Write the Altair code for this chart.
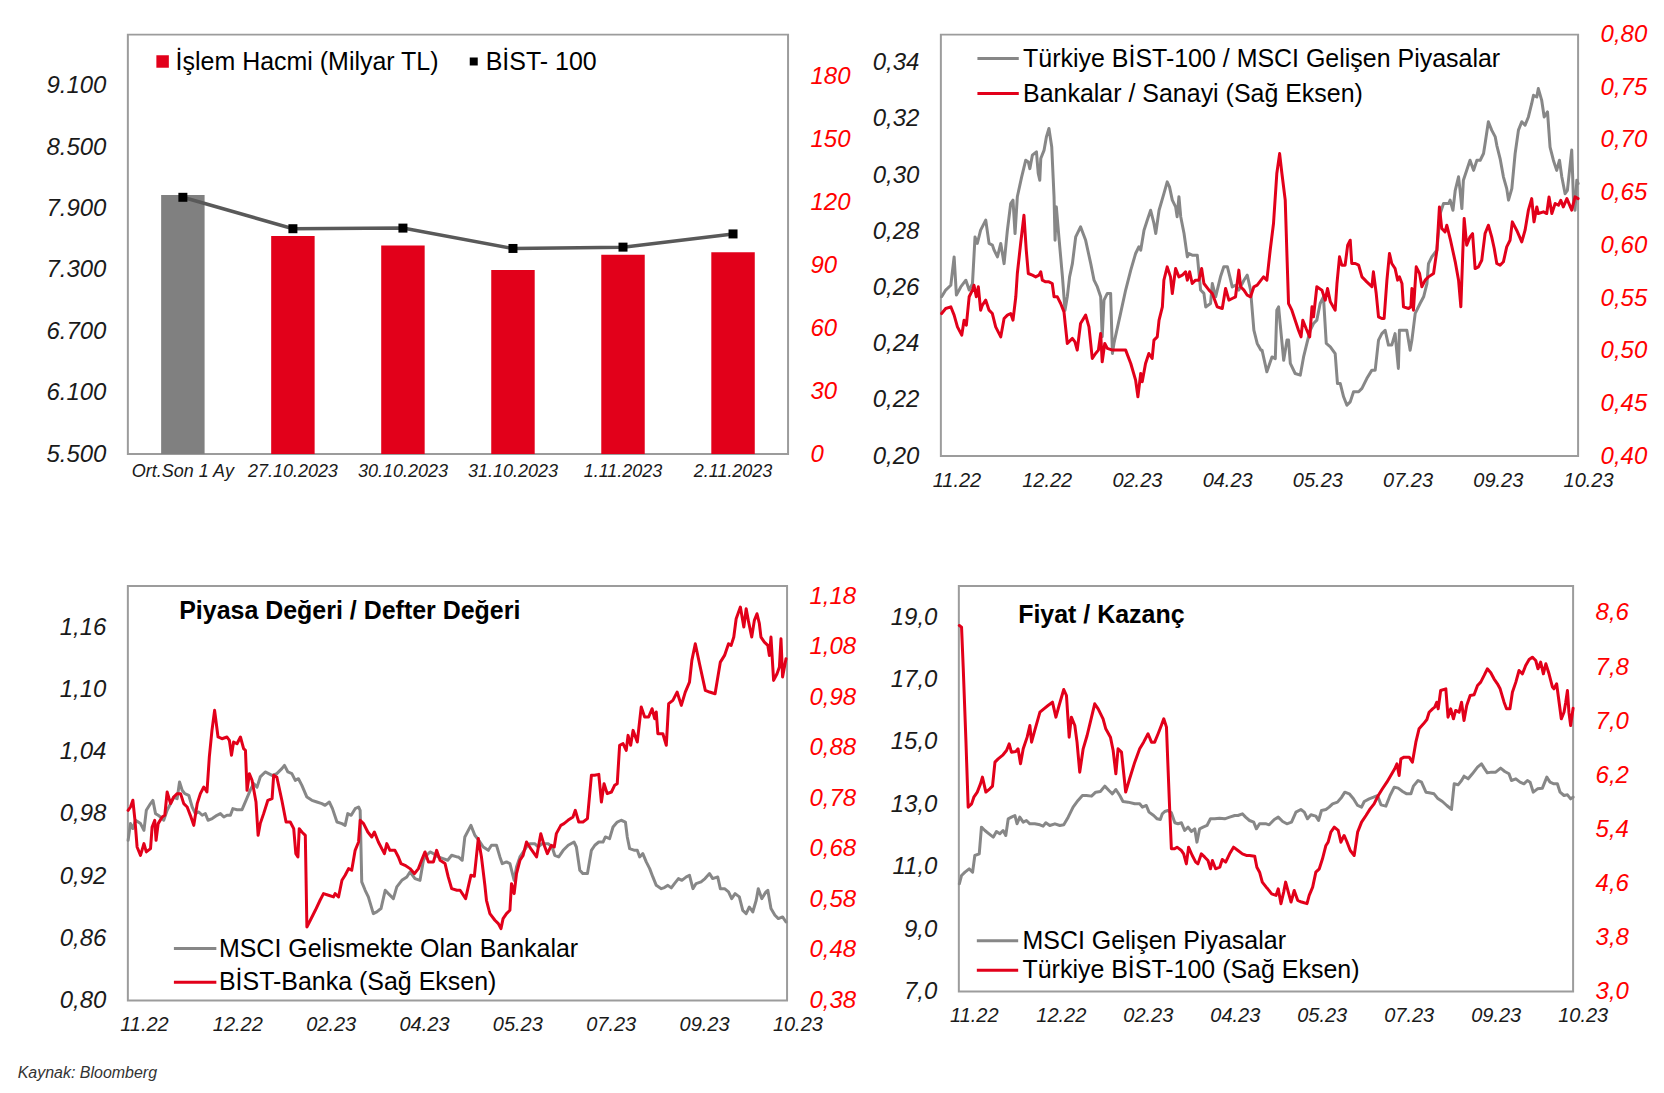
import altair as alt
import pandas as pd

FONT = "Liberation Sans"
TXT = "#1a1a1a"
RED = "#E2001A"
RED_TXT = "#FF0000"
GRAY = "#878787"
GRAY_BAR = "#808080"
FRAME = "#9C9C9C"

# ---------------- Panel 1 : İşlem hacmi & BİST-100 ----------------
p1_categories = ["Ort.Son 1 Ay", "27.10.2023", "30.10.2023", "31.10.2023", "1.11.2023", "2.11.2023"]
p1_volume = [123.5, 104.0, 99.5, 87.8, 95.1, 96.2]
p1_bist100 = [8010, 7703, 7709, 7510, 7523, 7652]
p1_left_ticks = [5500, 6100, 6700, 7300, 7900, 8500, 9100]
p1_right_ticks = [0, 30, 60, 90, 120, 150, 180]
p1_legend = ["İşlem Hacmi (Milyar TL)", "BİST- 100"]

# ---------------- shared month labels ----------------
month_labels = ["11.22", "12.22", "02.23", "04.23", "05.23", "07.23", "09.23", "10.23"]
month_label_days = [6.3, 41.7, 77.1, 112.5, 147.9, 183.3, 218.7, 254.1]

# ---------------- Panel 2 ----------------
p2_names = ["Türkiye BİST-100 / MSCI Gelişen Piyasalar", "Bankalar / Sanayi (Sağ Eksen)"]
p2_left_ticks = [0.20, 0.22, 0.24, 0.26, 0.28, 0.30, 0.32, 0.34]
p2_right_ticks = [0.40, 0.45, 0.50, 0.55, 0.60, 0.65, 0.70, 0.75, 0.80]
p2_gray = [
    (0.3, .2567), (1.9, .2591), (3.9, .2608), (5.2, .2709), (6.1, .2573), (7.8, .2602), (9.8, .2626), (11.1, .2591),
    (12.4, .2614), (13.4, .2780), (14.3, .2757), (15.6, .2804), (17.6, .2840), (18.9, .2757), (20.2, .2751), (20.9, .2733),
    (22.2, .2709), (23.5, .2757), (24.8, .2685), (26.1, .2804), (27.4, .2899), (28.3, .2911), (29.1, .2792), (30.0, .2923),
    (31.7, .2994), (33.3, .3053), (34.3, .3047), (34.9, .3023), (35.9, .3071), (37.5, .3083), (38.2, .3006), (38.8, .2982),
    (39.2, .3059), (40.5, .3089), (41.4, .3136), (42.4, .3166), (43.5, .3100), (44.4, .2923), (44.8, .2768), (45.3, .2887),
    (46.3, .2780), (47.7, .2638), (48.7, .2519), (49.6, .2567), (50.5, .2638), (51.6, .2685), (52.9, .2780), (54.8, .2816),
    (56.8, .2768), (58.8, .2685), (60.1, .2626), (61.4, .2602), (62.7, .2567), (63.3, .2425), (64.0, .2555), (65.3, .2579),
    (66.6, .2579), (67.3, .2365), (67.9, .2401), (70.5, .2508), (72.5, .2591), (74.5, .2662), (76.4, .2721), (77.7, .2745),
    (78.4, .2733), (79.7, .2804), (81.0, .2840), (82.3, .2875), (83.6, .2828), (84.3, .2792), (85.6, .2875), (87.5, .2934),
    (88.8, .2976), (89.7, .2958), (90.8, .2911), (92.1, .2887), (92.7, .2852), (93.4, .2923), (94.1, .2852), (95.4, .2792),
    (96.7, .2709), (97.3, .2721), (98.6, .2715), (100.6, .2715), (101.9, .2591), (103.2, .2579), (103.9, .2531), (105.8, .2543),
    (106.5, .2614), (107.8, .2567), (109.7, .2638), (111.0, .2674), (112.4, .2674), (113.7, .2626), (114.3, .2602), (115.6, .2608),
    (116.9, .2591), (118.9, .2626), (120.2, .2644), (121.5, .2591), (122.8, .2448), (124.1, .2401), (125.6, .2377),
    (126.0, .2377), (127.9, .2300), (129.9, .2353), (131.2, .2347), (131.8, .2519), (132.5, .2531), (133.1, .2472), (134.5, .2341),
    (135.8, .2413), (136.4, .2413), (137.1, .2330), (139.0, .2294), (141.0, .2288), (142.3, .2353), (143.6, .2401), (144.9, .2448),
    (146.2, .2472), (147.5, .2484), (148.8, .2543), (150.1, .2567), (151.2, .2401), (152.8, .2389), (154.7, .2365), (155.6, .2258),
    (156.7, .2258), (158.0, .2211), (159.3, .2181), (160.6, .2193), (161.9, .2229), (163.9, .2229), (165.2, .2241), (167.1, .2276),
    (169.1, .2306), (170.4, .2306), (171.7, .2413), (173.0, .2436), (174.3, .2448), (175.6, .2395), (176.9, .2395), (178.2, .2436),
    (179.5, .2312), (179.9, .2448), (182.8, .2448), (184.1, .2377), (184.8, .2413), (186.1, .2508), (188.0, .2543), (189.4, .2567),
    (190.7, .2614), (191.3, .2685), (192.6, .2709), (194.6, .2733), (195.9, .2863), (197.2, .2899), (199.2, .2899), (199.8, .2911),
    (200.9, .2875), (201.8, .2946), (203.1, .2994), (203.7, .2946), (204.4, .2881), (205.0, .2982), (206.3, .3017), (207.6, .3053),
    (209.0, .3017), (210.3, .3053), (211.6, .3053), (212.9, .3077), (213.5, .3112), (214.8, .3190), (216.1, .3160), (217.5, .3136),
    (218.1, .3106), (219.4, .3059), (220.7, .2994), (222.0, .2952), (222.7, .2911), (224.0, .2952), (225.3, .3077), (226.6, .3160),
    (227.9, .3190), (229.2, .3178), (230.5, .3207), (231.8, .3255), (232.5, .3284), (233.8, .3278), (234.4, .3308), (235.7, .3267),
    (236.7, .3207), (238.0, .3225), (239.0, .3100), (240.3, .3053), (241.6, .3017), (242.7, .3053), (243.6, .2994), (244.9, .2934),
    (245.8, .2946), (247.5, .3089), (248.2, .2911), (248.8, .2875), (249.5, .2982), (250.0, .2970),
]
p2_red = [
    (0.3, .5353), (1.9, .5401), (3.9, .5417), (5.2, .5338), (6.5, .5227), (8.2, .5148), (9.1, .5290), (10.0, .5243),
    (11.1, .5512), (12.4, .5575), (13.0, .5622), (13.9, .5512), (14.7, .5607), (15.6, .5385), (16.3, .5433), (17.6, .5480),
    (18.9, .5385), (20.2, .5353), (21.5, .5227), (23.5, .5132), (24.8, .5306), (26.1, .5338), (27.4, .5353), (28.3, .5290),
    (29.4, .5512), (30.0, .5733), (31.3, .6018), (32.6, .6286), (33.5, .5954), (34.3, .5733), (35.9, .5717), (37.2, .5701),
    (38.5, .5717), (39.2, .5749), (39.8, .5670), (41.1, .5654), (42.4, .5654), (43.7, .5638), (44.4, .5512), (45.7, .5512),
    (47.0, .5448), (48.3, .5369), (49.6, .5069), (50.9, .5101), (51.6, .5117), (52.6, .5085), (53.5, .5006), (54.8, .5259),
    (56.8, .5338), (58.1, .5227), (59.4, .4927), (60.7, .4974), (61.8, .5006), (62.7, .5164), (63.3, .4895), (64.3, .5069),
    (65.3, .5022), (67.3, .5006), (69.9, .5006), (72.5, .5006), (74.5, .4879), (76.4, .4721), (77.3, .4563), (78.4, .4784),
    (79.0, .4705), (80.3, .4879), (81.6, .4974), (82.9, .4927), (83.6, .5101), (84.9, .5132), (85.6, .5290), (86.9, .5417),
    (87.5, .5670), (88.8, .5796), (90.1, .5701), (90.8, .5543), (92.1, .5780), (93.4, .5701), (94.7, .5717), (96.0, .5749),
    (96.7, .5670), (97.6, .5749), (98.6, .5638), (99.9, .5670), (101.2, .5670), (102.3, .5780), (103.2, .5638), (105.2, .5575),
    (106.5, .5543), (108.4, .5417), (110.4, .5401), (111.7, .5591), (113.0, .5480), (114.3, .5496), (115.6, .5512), (116.9, .5765),
    (117.6, .5607), (118.9, .5575), (120.2, .5527), (121.5, .5512), (122.8, .5607), (124.1, .5622), (125.6, .5670),
    (126.6, .5701), (127.9, .5670), (129.2, .5954), (130.5, .6207), (131.8, .6682), (132.9, .6871), (133.8, .6682), (135.1, .6429),
    (135.8, .5891), (136.4, .5448), (137.7, .5385), (139.0, .5290), (140.3, .5195), (141.3, .5132), (142.0, .5290), (143.3, .5211),
    (144.7, .5132), (145.6, .5417), (146.2, .5322), (147.5, .5607), (149.5, .5575), (150.8, .5480), (151.7, .5591), (152.8, .5464),
    (154.7, .5385), (155.4, .5638), (156.4, .5891), (157.3, .5812), (158.6, .5812), (159.6, .6002), (160.6, .6049), (161.2, .5828),
    (162.6, .5828), (163.9, .5812), (165.2, .5701), (167.1, .5654), (169.1, .5607), (169.7, .5749), (170.8, .5543), (171.7, .5322),
    (173.0, .5306), (173.9, .5306), (175.0, .5670), (176.0, .5923), (176.9, .5828), (178.2, .5780), (179.2, .5670), (179.9, .5701),
    (180.9, .5638), (181.5, .5417), (183.5, .5401), (184.4, .5417), (184.8, .5591), (185.4, .5385), (186.5, .5796), (187.8, .5733),
    (188.7, .5607), (190.0, .5670), (191.3, .5701), (193.3, .5733), (194.6, .5954), (195.6, .6365), (196.5, .6160), (197.8, .6128),
    (198.5, .6191), (199.8, .6065), (201.8, .5844), (203.1, .5670), (204.0, .5417), (204.8, .5954), (205.3, .6255), (206.3, .6002),
    (207.6, .6081), (208.6, .6112), (209.6, .5780), (210.9, .5796), (212.2, .5859), (213.5, .6112), (214.8, .6191), (216.1, .6081),
    (217.1, .5970), (218.1, .5828), (219.4, .5812), (220.7, .5844), (222.0, .5986), (223.3, .6049), (224.2, .6223), (225.9, .6144),
    (227.9, .6033), (229.2, .6144), (230.5, .6334), (231.8, .6444), (232.7, .6223), (233.8, .6365), (234.4, .6302), (236.4, .6318),
    (237.7, .6302), (238.6, .6460), (239.7, .6302), (241.0, .6397), (242.3, .6381), (243.2, .6428), (244.2, .6365), (245.6, .6444),
    (247.5, .6334), (248.8, .6460), (250.0, .6444),
]

# ---------------- Panel 3 ----------------
p3_title = "Piyasa Değeri / Defter Değeri"
p3_names = ["MSCI Gelismekte Olan Bankalar", "BİST-Banka (Sağ Eksen)"]
p3_left_ticks = [0.80, 0.86, 0.92, 0.98, 1.04, 1.10, 1.16]
p3_right_ticks = [0.38, 0.48, 0.58, 0.68, 0.78, 0.88, 0.98, 1.08, 1.18]
p3_gray_days = [
    0.1, 1.0, 1.9, 2.9, 4.8, 6.1, 7.0, 8.6, 9.5, 10.5, 11.5, 12.4, 13.6, 14.9, 16.2, 17.4, 18.7, 19.6, 20.6, 21.6,
    23.1, 24.4, 25.6, 26.9, 28.2, 29.4, 30.4, 32.0, 33.8, 35.1, 36.4, 37.6, 38.9, 39.8, 41.4, 43.3, 44.8, 46.4, 47.7, 49.0,
    50.2, 52.1, 53.4, 54.7, 56.5, 58.4, 59.4, 60.7, 62.2, 63.5, 64.7, 66.0, 67.9, 69.8, 71.7, 73.6, 74.8, 76.4, 77.6, 79.3,
    81.2, 82.4, 83.4, 84.7, 86.2, 87.5, 88.1, 88.7, 90.0, 91.2, 93.1, 94.4, 96.0, 97.6, 98.8, 100.7, 102.0, 103.9, 105.8, 107.0,
    108.9, 110.8, 112.1, 113.3, 114.6, 115.9, 117.7, 119.6, 121.3, 122.8, 124.8,
]
p3_gray_vals = [
    0.9546, 0.9707, 0.9659, 0.9739, 0.9707, 0.9642, 0.9835, 0.9900, 0.9931, 0.9803, 0.9787, 0.9770, 0.9739, 0.9835, 0.9900,
    0.9963, 0.9948, 1.0109, 1.0028, 0.9996, 0.9980, 0.9867, 0.9803, 0.9819, 0.9787, 0.9803, 0.9739, 0.9755, 0.9787, 0.9803,
    0.9770, 0.9787, 0.9787, 0.9851, 0.9841, 0.9841, 0.9931, 1.0028, 1.0092, 1.0059, 1.0157, 1.0205, 1.0189, 1.0172, 1.0189,
    1.0237, 1.0269, 1.0205, 1.0189, 1.0124, 1.0140, 1.0076, 0.9963, 0.9931, 0.9915, 0.9900, 0.9883, 0.9915, 0.9851, 0.9722,
    0.9707, 0.9690, 0.9803, 0.9787, 0.9851, 0.9867, 0.9835, 0.9144, 0.9063, 0.8999, 0.8838, 0.8854, 0.8887, 0.9063, 0.9031,
    0.8983, 0.9096, 0.9159, 0.9192, 0.9240, 0.9176, 0.9159, 0.9353, 0.9401, 0.9433, 0.9417, 0.9385, 0.9368, 0.9353, 0.9401,
    0.9385,
]
p3_gray_late = [
    (125.3, .9385), (126.8, .9353), (127.8, .9578), (130.1, .9690), (131.6, .9594), (133.1, .9546), (134.8, .9481), (136.7, .9449),
    (137.9, .9498), (139.8, .9498), (141.1, .9385), (142.0, .9320), (143.6, .9337), (144.9, .9320), (146.5, .9159), (147.4, .9288),
    (148.7, .9385), (151.2, .9481), (152.4, .9513), (154.3, .9513), (155.6, .9481), (157.1, .9513), (159.4, .9513), (160.9, .9481),
    (161.9, .9401), (163.4, .9385), (165.1, .9449), (167.0, .9498), (169.2, .9529), (170.1, .9481), (171.4, .9256), (172.6, .9224),
    (174.3, .9224), (175.8, .9449), (177.1, .9498), (178.6, .9529), (180.2, .9529), (181.1, .9578), (182.7, .9561), (184.0, .9674),
    (185.6, .9722), (187.1, .9739), (188.7, .9722), (189.4, .9578), (190.3, .9465), (192.2, .9449), (193.2, .9449), (194.1, .9385),
    (195.3, .9417), (196.6, .9337), (197.9, .9272), (199.1, .9192), (200.4, .9111), (202.3, .9079), (203.5, .9089), (204.8, .9111),
    (206.1, .9086), (207.3, .9128), (208.8, .9176), (210.1, .9159), (211.8, .9192), (213.0, .9208), (214.3, .9079), (215.5, .9128),
    (217.4, .9144), (218.9, .9176), (220.6, .9224), (221.8, .9176), (223.7, .9192), (224.7, .9079), (226.3, .9079), (227.8, .9048),
    (229.0, .8983), (230.3, .9031), (231.9, .8999), (233.2, .8870), (234.5, .8838), (235.7, .8902), (237.0, .8854), (238.3, .8967),
    (239.1, .9079), (240.4, .8983), (242.0, .9048), (242.7, .9063), (243.9, .8887), (245.4, .8822), (246.7, .8790), (248.3, .8806),
    (249.6, .8757),
]
p3_red = [
    (0.1, .7561), (1.0, .7627), (1.9, .7760), (2.7, .7363), (3.5, .6836), (4.8, .6671), (6.1, .6903), (7.0, .6738),
    (8.6, .6804), (9.2, .7232), (10.2, .7363), (10.7, .6968), (11.5, .7298), (13.0, .7430), (14.0, .7462), (14.9, .7924),
    (16.2, .7693), (17.4, .7825), (18.7, .7891), (20.0, .7891), (21.2, .7693), (22.5, .7627), (23.7, .7462), (25.0, .7264),
    (26.3, .7693), (27.5, .7891), (28.8, .8023), (30.0, .7924), (30.9, .8617), (31.9, .9143), (32.9, .9539), (34.2, .9012),
    (35.7, .8978), (37.6, .9012), (38.5, .8946), (39.3, .8649), (40.1, .8913), (41.4, .8879), (42.7, .9012), (43.9, .8781),
    (44.6, .8748), (45.2, .7957), (46.1, .8286), (47.1, .8155), (48.6, .7726), (49.4, .7067), (50.2, .7298), (51.5, .7496),
    (53.1, .7760), (54.7, .7792), (55.3, .8254), (56.5, .8220), (58.4, .7760), (60.0, .7331), (61.6, .7331), (62.9, .7199),
    (63.7, .6705), (64.5, .6639), (65.0, .7199), (66.0, .7133), (67.3, .7067), (67.9, .5254), (69.2, .5387), (71.1, .5584),
    (72.9, .5782), (74.2, .5913), (76.1, .5881), (78.0, .5848), (78.6, .5913), (79.9, .5848), (81.2, .6177), (82.4, .6276),
    (83.7, .6408), (84.9, .6375), (86.2, .6770), (87.5, .6935), (88.1, .7363), (89.4, .7298), (91.0, .7133), (92.5, .7034),
    (93.5, .7133), (95.0, .6935), (96.3, .6804), (97.3, .6705), (98.2, .6903), (99.4, .6770), (101.3, .6770), (102.6, .6639),
    (103.6, .6507), (105.1, .6474), (107.0, .6408), (108.7, .6309), (110.2, .6408), (111.4, .6573), (112.7, .6738), (114.0, .6540),
    (115.9, .6540), (117.1, .6770), (118.4, .6573), (120.3, .6507), (121.5, .6244), (122.8, .6012), (124.8, .5980),
    (126.0, .5980), (128.1, .5814), (129.1, .6046), (130.1, .6276), (131.4, .6256), (132.9, .7002), (134.1, .6639), (135.4, .6078),
    (136.0, .5782), (137.3, .5518), (139.2, .5387), (140.5, .5320), (141.5, .5221), (142.3, .5419), (143.6, .5518), (144.9, .5584),
    (145.5, .6111), (146.5, .5913), (147.4, .6309), (148.7, .6573), (149.9, .6671), (151.2, .6935), (152.8, .6804), (155.0, .6639),
    (156.6, .7100), (157.9, .6869), (159.1, .6705), (160.6, .6869), (161.7, .6837), (162.5, .7100), (164.2, .7264), (165.4, .7298),
    (166.9, .7363), (168.8, .7430), (169.7, .7561), (171.0, .7331), (172.6, .7331), (174.3, .7397), (175.8, .8254), (177.0, .8254),
    (178.6, .8273), (179.6, .7726), (180.6, .8089), (181.8, .7891), (183.4, .7924), (184.6, .8056), (185.6, .8089), (186.5, .8847),
    (187.8, .8880), (189.0, .8748), (189.7, .9044), (190.7, .8847), (191.6, .9143), (193.2, .8913), (194.7, .9605), (196.0, .9407),
    (197.5, .9407), (198.8, .9571), (199.8, .9374), (200.4, .9506), (201.0, .9077), (202.9, .9077), (204.2, .8847), (205.1, .9671),
    (206.7, .9736), (208.3, .9901), (209.9, .9638), (211.4, .9901), (213.0, 1.0099), (213.9, 1.0527), (215.2, 1.0857), (216.8, 1.0462),
    (219.0, .9934), (220.6, .9901), (222.7, .9868), (224.7, 1.0494), (226.3, 1.0626), (227.8, 1.0857), (228.8, 1.0825), (229.8, 1.0989),
    (230.7, 1.1351), (232.3, 1.1582), (233.6, 1.1186), (234.5, 1.1549), (235.3, 1.1319), (236.6, 1.0989), (237.6, 1.1319), (238.6, 1.1450),
    (239.5, 1.1253), (240.1, 1.0989), (241.4, 1.0890), (242.7, 1.0825), (243.3, 1.0626), (243.9, 1.0989), (244.9, 1.0132), (246.2, 1.0264),
    (247.1, 1.0396), (247.7, 1.0956), (248.3, 1.0198), (249.6, 1.0561),
]

# ---------------- Panel 4 ----------------
p4_title = "Fiyat / Kazanç"
p4_names = ["MSCI Gelişen Piyasalar", "Türkiye BİST-100 (Sağ Eksen)"]
p4_left_ticks = [7, 9, 11, 13, 15, 17, 19]
p4_right_ticks = [3.0, 3.8, 4.6, 5.4, 6.2, 7.0, 7.8, 8.6]
p4_gray = [
    (0.2, 10.451), (1.1, 10.718), (2.5, 10.825), (4.2, 10.932), (5.6, 10.825), (6.5, 11.359), (8.3, 11.413), (9.2, 12.267),
    (10.6, 12.161), (12.3, 12.054), (14.0, 11.947), (15.3, 12.129), (16.7, 12.054), (18.0, 12.161), (19.1, 12.001), (20.1, 12.535),
    (21.4, 12.588), (22.8, 12.642), (23.7, 12.375), (24.8, 12.588), (26.2, 12.428), (27.5, 12.481), (28.9, 12.375), (30.9, 12.375),
    (33.0, 12.342), (34.3, 12.300), (35.4, 12.407), (37.0, 12.321), (39.1, 12.375), (41.1, 12.321), (42.7, 12.342), (44.5, 12.588),
    (46.5, 12.909), (48.5, 13.123), (50.3, 13.282), (51.9, 13.282), (54.0, 13.262), (55.7, 13.389), (57.6, 13.411), (59.4, 13.582),
    (61.1, 13.443), (62.5, 13.336), (63.9, 13.475), (65.5, 13.282), (66.8, 13.090), (68.9, 13.069), (71.6, 13.016), (73.6, 13.016),
    (74.7, 12.909), (76.3, 12.962), (77.4, 12.749), (79.3, 12.642), (80.7, 12.535), (82.0, 12.514), (82.8, 12.695), (83.8, 12.770),
    (85.1, 12.802), (86.5, 12.727), (87.9, 12.407), (89.2, 12.375), (90.6, 12.407), (91.9, 12.161), (93.3, 12.267), (94.6, 12.129),
    (96.0, 12.214), (96.9, 11.787), (98.0, 12.214), (99.4, 12.267), (101.0, 12.321), (102.4, 12.535), (104.1, 12.535), (106.1, 12.556),
    (108.2, 12.535), (110.2, 12.588), (112.3, 12.642), (113.6, 12.642), (115.4, 12.695), (116.7, 12.588), (118.3, 12.481), (120.0, 12.428),
    (121.1, 12.214), (122.4, 12.375), (125.1, 12.375),
    (126.3, 12.342), (128.4, 12.514), (130.0, 12.588), (131.8, 12.449), (133.5, 12.375), (135.4, 12.428), (137.2, 12.749), (139.2, 12.834),
    (140.6, 12.749), (141.9, 12.535), (143.3, 12.664), (145.3, 12.620), (146.4, 12.481), (147.6, 12.802), (149.4, 12.834), (150.7, 12.909),
    (152.1, 13.016), (154.1, 13.069), (155.8, 13.229), (157.1, 13.389), (158.9, 13.336), (160.6, 13.176), (162.3, 12.962), (163.9, 12.909),
    (165.0, 13.090), (167.0, 13.176), (168.8, 13.229), (170.4, 13.282), (171.8, 12.983), (173.8, 12.941), (175.5, 13.282), (177.2, 13.550),
    (178.8, 13.518), (180.6, 13.411), (182.3, 13.336), (184.0, 13.336), (185.0, 13.582), (186.9, 13.764), (188.3, 13.710), (190.1, 13.389),
    (191.4, 13.368), (193.4, 13.336), (194.8, 13.197), (196.8, 13.090), (198.6, 12.962), (200.5, 12.834), (201.6, 13.657), (203.2, 13.625),
    (204.6, 13.764), (205.6, 13.902), (207.3, 13.817), (209.0, 13.978), (211.1, 14.192), (212.7, 14.298), (213.8, 14.159), (215.1, 14.009),
    (216.8, 14.031), (218.5, 14.031), (220.5, 14.159), (222.2, 14.052), (223.9, 13.978), (224.9, 13.764), (226.7, 13.817), (228.4, 13.710),
    (230.0, 13.657), (231.4, 13.764), (232.5, 13.710), (233.8, 13.389), (235.5, 13.496), (237.5, 13.518), (239.3, 13.871), (240.6, 13.710),
    (242.2, 13.657), (243.6, 13.657), (244.7, 13.389), (246.3, 13.282), (247.7, 13.304), (249.0, 13.176), (250.0, 13.229),
]
p4_red = [
    (0.2, 8.415), (1.1, 8.391), (1.8, 7.774), (2.9, 6.689), (3.8, 5.727), (5.2, 5.776), (6.1, 5.875), (7.5, 5.950),
    (8.8, 6.072), (9.6, 6.171), (11.0, 5.950), (12.6, 5.999), (13.7, 6.038), (14.7, 6.393), (16.0, 6.442), (18.0, 6.502),
    (19.4, 6.565), (20.5, 6.664), (21.4, 6.541), (23.2, 6.551), (24.1, 6.590), (25.1, 6.368), (26.2, 6.590), (27.8, 6.763),
    (28.9, 6.935), (29.6, 6.689), (30.9, 6.862), (33.0, 7.132), (34.6, 7.182), (36.3, 7.231), (38.1, 7.280), (39.5, 7.059),
    (40.8, 7.231), (42.7, 7.468), (43.8, 7.379), (44.9, 6.763), (45.8, 7.059), (47.2, 6.935), (48.1, 6.689), (49.2, 6.245),
    (50.6, 6.590), (52.2, 6.787), (54.0, 7.059), (55.3, 7.256), (56.7, 7.182), (58.7, 7.034), (59.8, 6.886), (61.7, 6.763),
    (62.8, 6.565), (63.9, 6.220), (64.8, 6.590), (66.2, 6.541), (67.9, 5.950), (69.5, 6.147), (71.6, 6.393), (73.6, 6.590),
    (75.2, 6.689), (77.0, 6.813), (78.4, 6.689), (79.7, 6.689), (81.1, 6.813), (82.4, 6.935), (83.4, 7.034), (84.5, 6.911),
    (85.1, 6.344), (85.8, 5.702), (86.5, 5.111), (87.8, 5.111), (88.8, 5.135), (90.6, 5.085), (91.5, 5.036), (92.6, 4.888),
    (93.5, 5.135), (95.0, 5.012), (96.4, 4.913), (97.3, 4.888), (98.7, 5.036), (100.1, 4.987), (101.4, 4.938), (102.4, 4.815),
    (103.2, 4.938), (104.5, 4.815), (106.2, 4.839), (107.2, 4.953), (108.6, 4.913), (110.2, 5.036), (111.8, 5.135), (113.6, 5.085),
    (115.4, 5.036), (117.0, 5.012), (118.3, 5.012), (120.4, 5.002), (121.3, 4.839), (122.4, 4.765), (123.5, 4.618), (125.1, 4.543),
    (125.7, 4.519), (127.3, 4.445), (129.1, 4.421), (130.0, 4.519), (131.1, 4.299), (132.2, 4.470), (133.0, 4.618), (134.1, 4.470),
    (135.2, 4.323), (136.5, 4.494), (137.9, 4.348), (139.5, 4.323), (141.7, 4.299), (142.6, 4.421), (144.0, 4.543), (145.3, 4.766),
    (146.7, 4.815), (148.0, 4.963), (149.4, 5.160), (150.3, 5.209), (151.4, 5.357), (152.8, 5.431), (154.4, 5.382), (155.5, 5.209),
    (156.8, 5.308), (157.9, 5.219), (159.3, 5.085), (160.9, 5.012), (162.3, 5.357), (163.9, 5.505), (165.7, 5.603), (167.4, 5.702),
    (169.0, 5.776), (170.7, 5.900), (172.4, 5.999), (174.2, 6.097), (175.8, 6.196), (177.4, 6.295), (178.3, 6.368), (179.2, 6.196),
    (179.9, 6.442), (181.2, 6.467), (183.3, 6.467), (184.6, 6.393), (186.0, 6.689), (187.3, 6.886), (189.1, 6.960), (190.5, 7.024),
    (191.4, 7.132), (192.8, 7.182), (193.7, 7.207), (194.5, 7.280), (195.1, 7.182), (196.1, 7.453), (198.2, 7.478), (199.1, 7.059),
    (200.2, 7.182), (201.3, 7.034), (202.2, 7.158), (203.6, 7.132), (204.6, 7.280), (205.6, 7.010), (206.7, 7.231), (208.1, 7.379),
    (209.7, 7.389), (211.1, 7.528), (212.4, 7.577), (213.8, 7.676), (215.1, 7.774), (216.5, 7.715), (217.8, 7.626), (219.2, 7.552),
    (220.3, 7.478), (221.9, 7.280), (222.9, 7.182), (224.3, 7.182), (225.3, 7.428), (226.7, 7.577), (228.0, 7.749), (229.4, 7.700),
    (230.7, 7.824), (232.1, 7.912), (233.4, 7.946), (234.8, 7.897), (235.7, 7.774), (236.8, 7.873), (237.9, 7.700), (238.9, 7.848),
    (240.2, 7.700), (241.6, 7.503), (242.2, 7.478), (243.3, 7.552), (244.3, 7.280), (245.2, 7.034), (246.3, 7.132), (247.0, 7.280),
    (247.7, 7.453), (248.3, 7.132), (249.0, 6.935), (250.0, 7.192),
]

source_note = "Kaynak: Bloomberg"


# ---------------- helpers ----------------
def yaxis(orient, values, expr, color):
    return alt.Axis(orient=orient, values=values, labelExpr=expr, title=None, domain=False, ticks=False,
                    grid=False, labelFont=FONT, labelFontSize=24, labelFontStyle="italic", labelColor=color,
                    labelPadding=22, labelOverlap=False)


def comma(fmt):
    return f"replace(format(datum.value, '{fmt}'), '.', ',')"


def note(txt, x, y, size=25, weight="normal", style="normal", color="#000000"):
    return alt.Chart(pd.DataFrame({"t": [txt]})).mark_text(
        align="left", baseline="middle", font=FONT, fontSize=size, fontWeight=weight,
        fontStyle=style, color=color).encode(text="t:N", x=alt.value(x), y=alt.value(y))


def key_line(color, x0, x1, y):
    return alt.Chart(pd.DataFrame({"k": [0]})).mark_rule(color=color, strokeWidth=3).encode(
        x=alt.value(x0), x2=alt.value(x1), y=alt.value(y))


def key_square(color, x, y, size):
    return alt.Chart(pd.DataFrame({"k": [0]})).mark_square(color=color, size=size, opacity=1).encode(
        x=alt.value(x), y=alt.value(y))


def ts_panel(w, h, gray, red, ldom, lticks, lexpr, rdom, rticks, rexpr, extras):
    xs = alt.Scale(domain=[0, 250], nice=False, zero=False)
    gdf = pd.DataFrame(gray, columns=["day", "value"])
    rdf = pd.DataFrame(red, columns=["day", "value"])
    gl = alt.Chart(gdf).mark_line(color=GRAY, strokeWidth=3, strokeJoin="round", strokeCap="round").encode(
        x=alt.X("day:Q", scale=xs, axis=None),
        y=alt.Y("value:Q", scale=alt.Scale(domain=ldom, nice=False, zero=False),
                axis=yaxis("left", lticks, lexpr, TXT)))
    rl = alt.Chart(rdf).mark_line(color=RED, strokeWidth=3, strokeJoin="round", strokeCap="round").encode(
        x=alt.X("day:Q", scale=xs, axis=None),
        y=alt.Y("value:Q", scale=alt.Scale(domain=rdom, nice=False, zero=False),
                axis=yaxis("right", rticks, rexpr, RED_TXT)))
    mdf = pd.DataFrame({"day": month_label_days, "label": month_labels})
    ml = alt.Chart(mdf).mark_text(font=FONT, fontSize=20, fontStyle="italic", color=TXT,
                                  align="center", baseline="middle").encode(
        x=alt.X("day:Q", scale=xs, axis=None), y=alt.value(h + 25), text="label:N")
    return alt.layer(gl, rl, ml, *extras).resolve_scale(y="independent").properties(width=w, height=h)


# ---------------- Panel 1 ----------------
p1_df = pd.DataFrame({"cat": p1_categories, "volume": p1_volume, "bist": p1_bist100})
xb = alt.X("cat:N", sort=p1_categories,
           scale=alt.Scale(paddingInner=0.605, paddingOuter=0.3025),
           axis=alt.Axis(title=None, labelAngle=0, labelFont=FONT, labelFontSize=18, labelFontStyle="italic",
                         labelColor=TXT, labelPadding=8, domain=False, ticks=False, labelOverlap=False))
bars = alt.Chart(p1_df).mark_bar().encode(
    x=xb,
    y=alt.Y("volume:Q", scale=alt.Scale(domain=[0, 200], nice=False),
            axis=yaxis("right", p1_right_ticks, "format(datum.value, 'd')", RED_TXT)),
    color=alt.condition(alt.datum.cat == p1_categories[0], alt.value(GRAY_BAR), alt.value(RED)))
line = alt.Chart(p1_df).mark_line(
    color="#595959", strokeWidth=3.5,
    point=alt.OverlayMarkDef(shape="square", size=81, filled=True, color="#000000", opacity=1)).encode(
    x=alt.X("cat:N", sort=p1_categories),
    y=alt.Y("bist:Q", scale=alt.Scale(domain=[5500, 9600], nice=False, zero=False),
            axis=yaxis("left", p1_left_ticks, "replace(format(datum.value, ','), ',', '.')", TXT)))
p1 = alt.layer(
    bars, line,
    key_square(RED, 34.8, 26.9, 156), note(p1_legend[0], 47.8, 27.7),
    key_square("#000000", 346.3, 26.9, 64), note(p1_legend[1], 358.3, 27.7),
).resolve_scale(y="independent").properties(width=661, height=420)

# ---------------- Panel 2 ----------------
p2 = ts_panel(638, 422, p2_gray, p2_red,
              [0.20, 0.35], p2_left_ticks, comma(".2f"),
              [0.40, 0.80], p2_right_ticks, comma(".2f"),
              [key_line(GRAY, 36.6, 78, 24), note(p2_names[0], 82.3, 24),
               key_line(RED, 36.6, 78, 59), note(p2_names[1], 82.3, 59)])

# ---------------- Panel 3 ----------------
p3_gray = list(zip(p3_gray_days, p3_gray_vals)) + p3_gray_late
p3 = ts_panel(660, 415, p3_gray, p3_red,
              [0.80, 1.20], p3_left_ticks, comma(".2f"),
              [0.38, 1.20], p3_right_ticks, comma(".2f"),
              [note(p3_title, 51.4, 25.5, weight="bold"),
               key_line(GRAY, 46.1, 88.6, 363), note(p3_names[0], 91.2, 363),
               key_line(RED, 46.1, 88.6, 396.7), note(p3_names[1], 91.2, 396.7),
               note(source_note, -110.3, 487.8, size=16, style="italic", color="#333333")])

# ---------------- Panel 4 ----------------
p4 = ts_panel(615, 406, p4_gray, p4_red,
              [7, 20], p4_left_ticks, comma(".1f"),
              [3.0, 9.0], p4_right_ticks, comma(".1f"),
              [note(p4_title, 59.4, 28.9, weight="bold"),
               key_line(GRAY, 18, 59.4, 355.2), note(p4_names[0], 63.7, 355.2),
               key_line(RED, 18, 59.4, 384.8), note(p4_names[1], 63.7, 384.8)])

row1 = alt.hconcat(p1, p2, spacing=153, bounds="flush")
row2 = alt.hconcat(p3, p4, spacing=172, bounds="flush")

chart = alt.vconcat(row1, row2, spacing=91).properties(
    padding={"left": 8, "top": 13, "right": 8, "bottom": 8}
).configure_view(stroke=FRAME, strokeWidth=2)

chart.save("out.html", embed_options={"renderer": "svg", "actions": False})
